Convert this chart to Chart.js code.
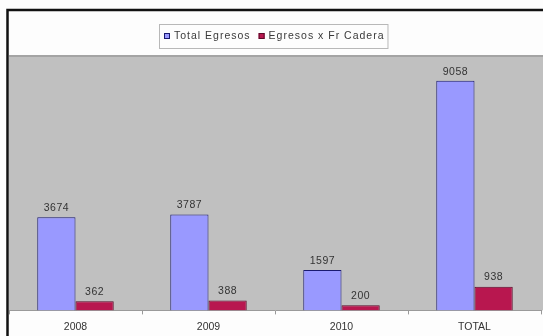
<!DOCTYPE html>
<html>
<head>
<meta charset="utf-8">
<script src="https://cdn.jsdelivr.net/npm/chart.js@4/dist/chart.umd.min.js"></script>
<style>
  html, body { margin: 0; padding: 0; background: #fdfdfd; overflow: hidden; }
  #wrap { width: 543px; height: 336px; position: relative; }
</style>
</head>
<body>
<div id="wrap"><canvas id="grafico"></canvas></div>
<script>
const categorias = ['2008', '2009', '2010', 'TOTAL'];
const totalEgresos = [3674, 3787, 1597, 9058];
const egresosFrCadera = [362, 388, 200, 938];
const nombresSeries = ['Total Egresos', 'Egresos x Fr Cadera'];

const fuente = 'Arial, "Liberation Sans", sans-serif';

// marco negro, fondo gris del área de trazado y cuadro de leyenda
const fondo = {
    id: 'fondo',
    beforeDraw(chart) {
        const { ctx, chartArea: a, width, height } = chart;
        ctx.save();
        ctx.fillStyle = '#c0c0c0';
        ctx.fillRect(a.left, a.top, width - a.left, a.bottom - a.top);
        ctx.fillStyle = '#a4a4a4';
        ctx.fillRect(a.left, a.top - 2, width - a.left, 2);
        ctx.strokeStyle = '#111';
        ctx.lineWidth = 2.5;
        ctx.beginPath();
        ctx.moveTo(7.5, height);
        ctx.lineTo(7.5, 10);
        ctx.lineTo(width, 10);
        ctx.stroke();
        ctx.restore();
    }
};

const leyenda = {
    id: 'leyenda',
    afterDraw(chart) {
        const { ctx } = chart;
        ctx.save();
        ctx.font = '10.5px ' + fuente;
        ctx.letterSpacing = '1px';
        const caja = 6, hueco = 4, sep = 8;
        const anchos = nombresSeries.map(n => ctx.measureText(n).width);
        const total = anchos.reduce((s, w) => s + caja + hueco + w, 0) + sep + 8;
        const x0 = 159, y0 = 24, alto = 24;
        ctx.fillStyle = '#fdfdfd';
        ctx.fillRect(x0, y0, total, alto);
        ctx.strokeStyle = '#b8b8b8';
        ctx.lineWidth = 1;
        ctx.strokeRect(x0 + 0.5, y0 + 0.5, total, alto);
        let x = x0 + 5;
        const yc = y0 + alto / 2;
        chart.data.datasets.forEach((ds, i) => {
            ctx.fillStyle = ds.backgroundColor;
            ctx.fillRect(x, yc - 3, caja, caja);
            ctx.strokeStyle = ds.borderColor;
            ctx.strokeRect(x + 0.5, yc - 2.5, caja - 1, caja - 1);
            x += caja + hueco;
            ctx.fillStyle = '#3a3a3a';
            ctx.textBaseline = 'middle';
            ctx.fillText(ds.label, x, yc + 0.5);
            x += anchos[i] + sep;
        });
        ctx.restore();
    }
};

// valores encima de cada barra
const etiquetas = {
    id: 'etiquetas',
    afterDatasetsDraw(chart) {
        const { ctx } = chart;
        ctx.save();
        ctx.font = '10.5px ' + fuente;
        ctx.letterSpacing = '0.5px';
        ctx.fillStyle = '#333';
        ctx.textAlign = 'center';
        ctx.textBaseline = 'bottom';
        chart.data.datasets.forEach((ds, i) => {
            chart.getDatasetMeta(i).data.forEach((bar, j) => {
                ctx.fillText(ds.data[j], bar.x, bar.y - 4);
            });
        });
        ctx.restore();
    }
};

new Chart(document.getElementById('grafico'), {
    type: 'bar',
    data: {
        labels: categorias,
        datasets: [
            {
                label: nombresSeries[0],
                data: totalEgresos,
                backgroundColor: '#9999ff',
                borderColor: '#1a1a70',
                borderWidth: 1
            },
            {
                label: nombresSeries[1],
                data: egresosFrCadera,
                backgroundColor: '#b8174f',
                borderColor: '#5a0a28',
                borderWidth: 1
            }
        ]
    },
    options: {
        responsive: true,
        maintainAspectRatio: false,
        animation: false,
        events: [],
        layout: { padding: { left: 9, right: 2, top: 57, bottom: -3 } },
        datasets: {
            bar: { categoryPercentage: 0.575, barPercentage: 1 }
        },
        plugins: {
            legend: { display: false },
            tooltip: { enabled: false }
        },
        scales: {
            x: {
                grid: {
                    offset: true,
                    drawOnChartArea: false,
                    color: '#999',
                    tickLength: 4
                },
                border: { display: true, color: '#9a9a9a', width: 1 },
                ticks: {
                    color: '#333',
                    font: { family: fuente, size: 10.5 },
                    padding: 6
                }
            },
            y: {
                display: false,
                min: 0,
                max: 10000
            }
        }
    },
    plugins: [fondo, etiquetas, leyenda]
});
</script>
</body>
</html>
